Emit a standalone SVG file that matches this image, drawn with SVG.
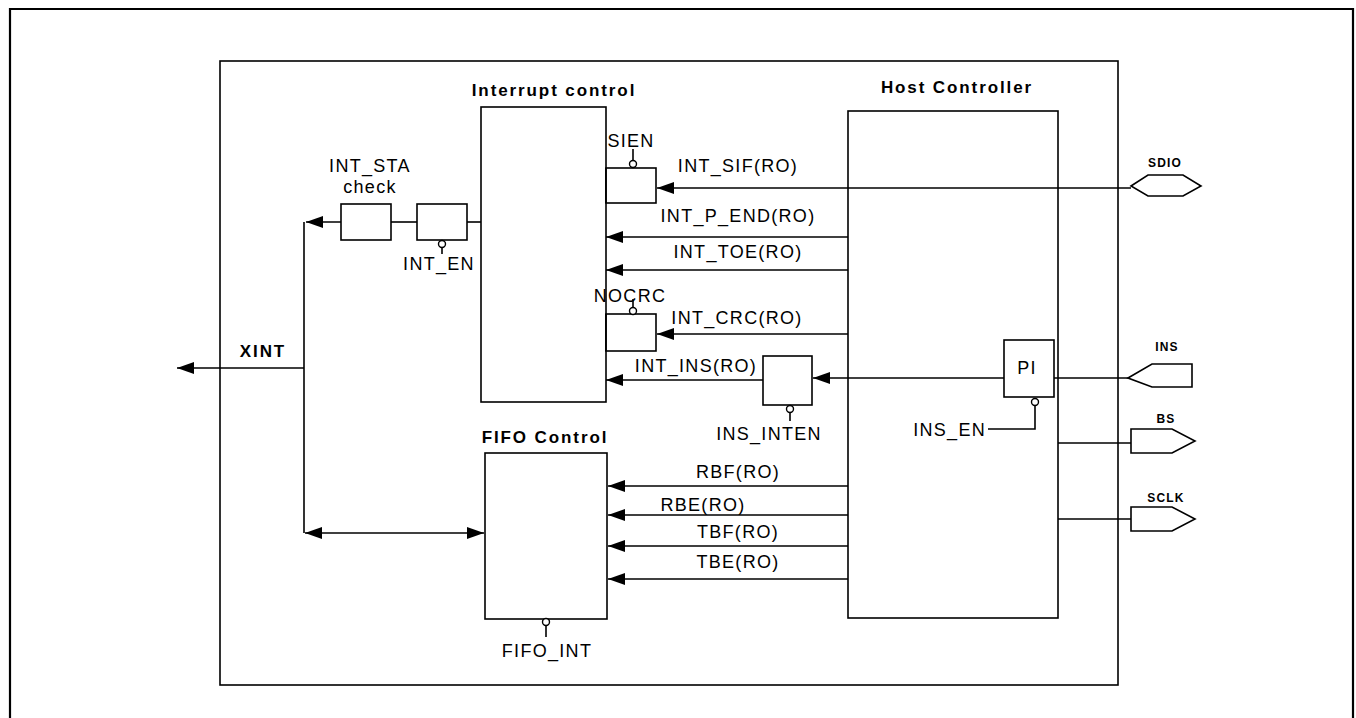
<svg xmlns="http://www.w3.org/2000/svg" width="1356" height="718" viewBox="0 0 1356 718">
<style>
.box{fill:#fff;stroke:#000;stroke-width:1.6}
.ln{fill:none;stroke:#000;stroke-width:1.6}
.bub{fill:#fff;stroke:#000;stroke-width:1.4}
.t{font-family:"Liberation Sans",Arial,sans-serif;font-size:18px;letter-spacing:1.3px;fill:#000;text-anchor:middle}
.b{font-family:"Liberation Sans",Arial,sans-serif;font-size:17px;font-weight:bold;letter-spacing:1.9px;fill:#000;text-anchor:middle}
.s{font-family:"Liberation Sans",Arial,sans-serif;font-size:12px;font-weight:bold;letter-spacing:1.2px;fill:#000;text-anchor:middle}
</style>
<defs>
<marker id="ah" markerUnits="userSpaceOnUse" markerWidth="18" markerHeight="14" refX="17" refY="7" orient="auto-start-reverse" viewBox="0 0 18 14">
<path d="M0,1 L17,7 L0,13 Z" fill="#000"/>
</marker>
</defs>
<rect width="1356" height="718" fill="#fff"/>
<g id="frame">
<path d="M10,718 V9 H1353 V718" fill="none" stroke="#000" stroke-width="2.2"/>
<rect x="220" y="61" width="898" height="624" fill="none" stroke="#000" stroke-width="1.6"/>
</g>
<g id="interrupt-control">
<rect class="box" x="481" y="107" width="125" height="295"/>
<text class="b" x="554" y="96">Interrupt control</text>
</g>
<g id="host-controller">
<rect class="box" x="848" y="111" width="210" height="507"/>
<text class="b" x="957" y="93">Host Controller</text>
</g>
<g id="fifo-control">
<rect class="box" x="485" y="453" width="122" height="166"/>
<text class="b" x="545" y="443">FIFO Control</text>
<path class="ln" d="M546,626 V637"/>
<circle class="bub" cx="546" cy="622" r="3.5"/>
<text class="t" x="547" y="657">FIFO_INT</text>
</g>
<g id="int-sta-check">
<rect class="box" x="341" y="204" width="50" height="36"/>
<text class="t" x="370" y="172">INT_STA</text>
<text class="t" x="370" y="193">check</text>
</g>
<g id="int-en">
<rect class="box" x="417" y="204" width="50" height="36"/>
<path class="ln" d="M442,248 V254"/>
<circle class="bub" cx="442" cy="244" r="3.5"/>
<text class="t" x="439" y="270">INT_EN</text>
</g>
<g id="sien">
<rect class="box" x="606" y="168" width="50" height="35"/>
<path class="ln" d="M606,168 V203" stroke-width="3"/>
<path class="ln" d="M633,160 V149"/>
<circle class="bub" cx="633" cy="164" r="3.5"/>
<text class="t" x="631" y="147">SIEN</text>
</g>
<g id="nocrc">
<rect class="box" x="606" y="314" width="50" height="37"/>
<path class="ln" d="M606,314 V351" stroke-width="3"/>
<path class="ln" d="M633,307 V299"/>
<circle class="bub" cx="633" cy="311" r="3.5"/>
<text class="t" x="630" y="302">NOCRC</text>
</g>
<g id="ins-inten">
<rect class="box" x="763" y="356" width="49" height="49"/>
<path class="ln" d="M790,413 V421"/>
<circle class="bub" cx="790" cy="409" r="3.5"/>
<text class="t" x="769" y="440">INS_INTEN</text>
</g>
<g id="pi">
<rect class="box" x="1004" y="340" width="50" height="57"/>
<text class="t" x="1027" y="374">PI</text>
<circle class="bub" cx="1035" cy="402" r="3.5"/>
<text class="t" x="986" y="436" style="text-anchor:end">INS_EN</text>
</g>
<g id="sdio">
<polygon class="box" points="1131,186 1148,175 1183,175 1201,186 1183,196 1148,196"/>
<text class="s" x="1165" y="167">SDIO</text>
</g>
<g id="ins">
<polygon class="box" points="1128,378 1152,364 1192,364 1192,387 1152,387"/>
<text class="s" x="1167" y="351">INS</text>
</g>
<g id="bs">
<polygon class="box" points="1131,429 1172,429 1195,441 1172,453 1131,453"/>
<text class="s" x="1166" y="423">BS</text>
</g>
<g id="sclk">
<polygon class="box" points="1131,507 1172,507 1195,519 1172,531 1131,531"/>
<text class="s" x="1166" y="502">SCLK</text>
</g>
<g id="connectors">
<path class="ln" d="M304,533 V222"/>
<path class="ln" d="M341,222 H306" marker-end="url(#ah)"/>
<path class="ln" d="M391,222 H417"/>
<path class="ln" d="M467,222 H481"/>
<path class="ln" d="M304,368 H177" marker-end="url(#ah)"/>
<path class="ln" d="M305,533 H484" marker-start="url(#ah)" marker-end="url(#ah)"/>
<path class="ln" d="M1131,188 H657" marker-end="url(#ah)"/>
<path class="ln" d="M848,237 H606" marker-end="url(#ah)"/>
<path class="ln" d="M848,270 H606" marker-end="url(#ah)"/>
<path class="ln" d="M848,334 H657" marker-end="url(#ah)"/>
<path class="ln" d="M763,380 H606" marker-end="url(#ah)"/>
<path class="ln" d="M1004,378 H813" marker-end="url(#ah)"/>
<path class="ln" d="M1054,378 H1128"/>
<path class="ln" d="M1058,443 H1131"/>
<path class="ln" d="M1058,519 H1131"/>
<path class="ln" d="M848,486 H608" marker-end="url(#ah)"/>
<path class="ln" d="M848,515 H608" marker-end="url(#ah)"/>
<path class="ln" d="M848,546 H608" marker-end="url(#ah)"/>
<path class="ln" d="M848,579 H608" marker-end="url(#ah)"/>
<path class="ln" d="M1035,406 V429 H988"/>
</g>
<g id="labels">
<text class="t" x="738" y="172">INT_SIF(RO)</text>
<text class="t" x="738" y="222">INT_P_END(RO)</text>
<text class="t" x="738" y="258">INT_TOE(RO)</text>
<text class="t" x="737" y="324">INT_CRC(RO)</text>
<text class="t" x="696" y="372">INT_INS(RO)</text>
<text class="t" x="738" y="478">RBF(RO)</text>
<text class="t" x="703" y="511">RBE(RO)</text>
<text class="t" x="738" y="538">TBF(RO)</text>
<text class="t" x="738" y="568">TBE(RO)</text>
<text class="b" x="263" y="357">XINT</text>
</g>
</svg>
